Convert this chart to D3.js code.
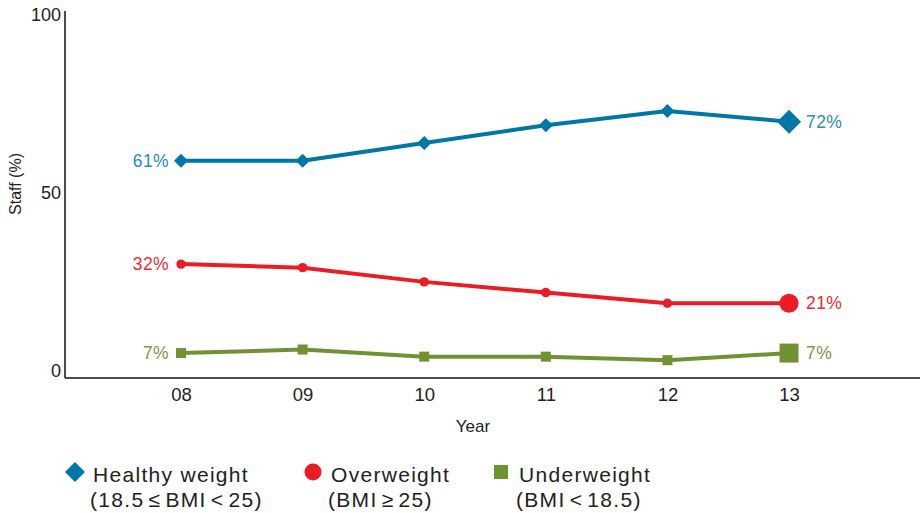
<!DOCTYPE html>
<html>
<head>
<meta charset="utf-8">
<script src="https://cdn.jsdelivr.net/npm/d3@7"></script>
<style>
  html, body { margin: 0; padding: 0; background: #fff; }
  svg { display: block; }
  text { font-family: "Liberation Sans", "DejaVu Sans", sans-serif; }
</style>
</head>
<body>
<svg id="chart" width="922" height="513"></svg>
<script>
// Staff BMI distribution by year
const years = ["08", "09", "10", "11", "12", "13"];
const healthy = [61, 61, 66, 71, 75, 72];
const overweight = [32, 31, 27, 24, 21, 21];
const underweight = [7, 8, 6, 6, 5, 7];
const yTicks = [0, 50, 100];
const seriesNames = ["Healthy weight", "Overweight", "Underweight"];
const seriesRanges = ["(18.5 \u2264 BMI < 25)", "(BMI \u2265 25)", "(BMI < 18.5)"];

const series = [
  { key: "healthy", values: healthy, line: "#0077a9", label: "#2a8bc1", shape: "diamond" },
  { key: "over", values: overweight, line: "#ec1c24", label: "#ec2a33", shape: "circle" },
  { key: "under", values: underweight, line: "#6f9233", label: "#7b9a40", shape: "square" }
];

const svg = d3.select("#chart");

// plot frame
const plotLeft = 65, plotRight = 920, plotTop = 11, plotBottom = 378;

const x = d3.scaleLinear()
  .domain([-0.954, years.length + 0.077])
  .range([plotLeft, plotRight]);
const y = d3.scaleLinear().domain([0, 100]).range([plotBottom, 22]);

// axes lines
svg.append("line").attr("x1", plotLeft).attr("x2", plotLeft).attr("y1", plotTop).attr("y2", plotBottom)
  .attr("stroke", "#111").attr("stroke-width", 1.5);
svg.append("line").attr("x1", plotLeft).attr("x2", plotRight).attr("y1", plotBottom).attr("y2", plotBottom)
  .attr("stroke", "#111").attr("stroke-width", 1.5);

// y tick labels
const yAxis = d3.axisLeft(y).tickValues(yTicks).tickSize(0).tickPadding(4);
const gy = svg.append("g").attr("transform", `translate(${plotLeft},0)`).call(yAxis);
gy.select(".domain").remove();
gy.selectAll("text")
  .attr("font-size", 18).attr("fill", "#222")
  .attr("dy", "-0.08em")
  .style("font-family", "'Liberation Sans', sans-serif");

// x tick labels
const xAxis = d3.axisBottom(x).tickValues(d3.range(years.length))
  .tickFormat(i => years[i]).tickSize(0).tickPadding(10);
const gx = svg.append("g").attr("transform", `translate(0,${plotBottom})`).call(xAxis);
gx.select(".domain").remove();
gx.selectAll("text")
  .attr("font-size", 18.5).attr("fill", "#222")
  .style("font-family", "'Liberation Sans', sans-serif");

// axis titles
svg.append("text").attr("x", 473).attr("y", 432).attr("text-anchor", "middle")
  .attr("font-size", 17).attr("fill", "#222").text("Year");
svg.append("text")
  .attr("transform", "translate(21,184) rotate(-90)")
  .attr("text-anchor", "middle").attr("font-size", 16).attr("fill", "#222")
  .text("Staff (%)");

// marker drawing
function marker(g, shape, cx, cy, big, color) {
  if (shape === "diamond") {
    const r = big ? 12 : 7;
    g.append("path")
      .attr("d", `M${cx},${cy - r}L${cx + r},${cy}L${cx},${cy + r}L${cx - r},${cy}Z`)
      .attr("fill", color);
  } else if (shape === "circle") {
    g.append("circle").attr("cx", cx).attr("cy", cy).attr("r", big ? 9.5 : 4.7).attr("fill", color);
  } else {
    const s = big ? 19 : 10;
    g.append("rect").attr("x", cx - s / 2).attr("y", cy - s / 2)
      .attr("width", s).attr("height", s).attr("fill", color);
  }
}

const line = d3.line().x((d, i) => x(i)).y(d => y(d));

series.forEach(s => {
  const g = svg.append("g");
  g.append("path").datum(s.values)
    .attr("d", line)
    .attr("fill", "none").attr("stroke", s.line).attr("stroke-width", 4)
    .attr("stroke-linejoin", "round");
  s.values.forEach((v, i) => marker(g, s.shape, x(i), y(v), i === s.values.length - 1, s.line));

  const first = s.values[0], last = s.values[s.values.length - 1];
  g.append("text").attr("x", x(0) - 12).attr("y", y(first)).attr("dy", "0.35em")
    .attr("text-anchor", "end").attr("font-size", 17.5).attr("fill", s.label)
    .attr("letter-spacing", 0.4)
    .text(first + "%");
  g.append("text").attr("x", x(s.values.length - 1) + 17).attr("y", y(last)).attr("dy", "0.35em")
    .attr("text-anchor", "start").attr("font-size", 17.5).attr("fill", s.label)
    .attr("letter-spacing", 0.4)
    .text(last + "%");
});

// legend
const legendX = [75, 313, 501];
const legend = svg.append("g");
series.forEach((s, i) => {
  const lx = legendX[i], ly = 472;
  if (s.shape === "diamond") {
    legend.append("path").attr("d", `M${lx},${ly - 10}L${lx + 10},${ly}L${lx},${ly + 10}L${lx - 10},${ly}Z`).attr("fill", s.line);
  } else if (s.shape === "circle") {
    legend.append("circle").attr("cx", lx).attr("cy", ly).attr("r", 8.5).attr("fill", s.line);
  } else {
    legend.append("rect").attr("x", lx - 7).attr("y", ly - 7).attr("width", 14).attr("height", 14).attr("fill", s.line);
  }
  legend.append("text").attr("x", lx + 18).attr("y", ly + 10)
    .attr("font-size", 21).attr("letter-spacing", 1.3).attr("fill", "#222").text(seriesNames[i]);
  legend.append("text").attr("x", lx + 15).attr("y", ly + 35)
    .attr("font-size", 21).attr("letter-spacing", 1.3).attr("word-spacing", -3)
    .attr("fill", "#222").text(seriesRanges[i]);
});
</script>
</body>
</html>
